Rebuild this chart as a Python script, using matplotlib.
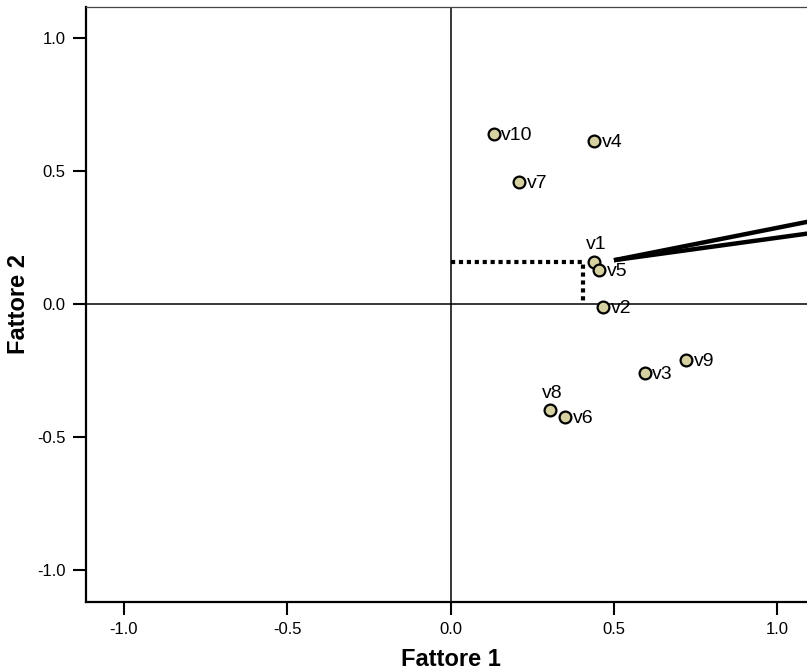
import matplotlib
matplotlib.use('Agg')
import matplotlib.pyplot as plt

# carichi fattoriali
variabili = ['v1', 'v2', 'v3', 'v4', 'v5', 'v6', 'v7', 'v8', 'v9', 'v10']
fattore1 = [0.438, 0.467, 0.594, 0.440, 0.454, 0.351, 0.211, 0.304, 0.721, 0.132]
fattore2 = [0.160, -0.010, -0.258, 0.613, 0.128, -0.425, 0.458, -0.399, -0.211, 0.640]
# etichette sopra il punto invece che a destra
sopra = ['v1', 'v8']

# proiezione tratteggiata di v1 e linee del richiamo
proiezione_x = [0.0, 0.406, 0.406]
proiezione_y = [0.160, 0.160, 0.0]
richiamo_x = [0.500, 1.115]
richiamo_alto_y = [0.165, 0.315]
richiamo_basso_y = [0.165, 0.269]

tick_vals = [-1.0, -0.5, 0.0, 0.5, 1.0]
tick_labels = ['-1.0', '-0.5', '0.0', '0.5', '1.0']

plt.rcParams['font.family'] = ['Liberation Sans', 'DejaVu Sans']

fig = plt.figure(figsize=(8.07, 6.71), dpi=100)
ax = fig.add_axes([86 / 807, 1 - 602 / 671, 729 / 807, 595 / 671])

ax.set_xlim(-1.115, 1.115)
ax.set_ylim(-1.12, 1.117)

ax.axhline(0, color='black', lw=1.1, zorder=1)
ax.axvline(0, color='black', lw=1.1, zorder=1)

ax.plot(proiezione_x, proiezione_y, color='black', lw=3,
        linestyle=(0, (1, 0.9)), solid_capstyle='butt', dash_capstyle='butt', zorder=2)
ax.plot(richiamo_x, richiamo_alto_y, color='black', lw=3.2, solid_capstyle='butt', zorder=2)
ax.plot(richiamo_x, richiamo_basso_y, color='black', lw=3.2, solid_capstyle='butt', zorder=2)

ax.scatter(fattore1, fattore2, s=72, color='#d6d1a1', edgecolor='black',
           linewidth=1.6, zorder=3)

for nome, x, y in zip(variabili, fattore1, fattore2):
    if nome in sopra:
        ax.annotate(nome, (x, y), xytext=(2, 6), textcoords='offset points',
                    ha='center', va='bottom', fontsize=14)
    else:
        ax.annotate(nome, (x, y), xytext=(5.5, -1), textcoords='offset points',
                    ha='left', va='center', fontsize=14)

ax.set_xticks(tick_vals)
ax.set_xticklabels(tick_labels)
ax.set_yticks(tick_vals)
ax.set_yticklabels(tick_labels)
ax.tick_params(direction='out', length=9.5, width=1.5, labelsize=12, pad=5)

ax.spines['left'].set_linewidth(1.6)
ax.spines['bottom'].set_linewidth(1.6)
ax.spines['top'].set_linewidth(0.9)
ax.spines['top'].set_color('#444444')
ax.spines['right'].set_visible(False)

ax.set_xlabel('Fattore 1', fontsize=17, fontweight='bold', labelpad=8)
ax.set_ylabel('Fattore 2', fontsize=17, fontweight='bold', labelpad=5)

fig.savefig('out.png', dpi=100)
